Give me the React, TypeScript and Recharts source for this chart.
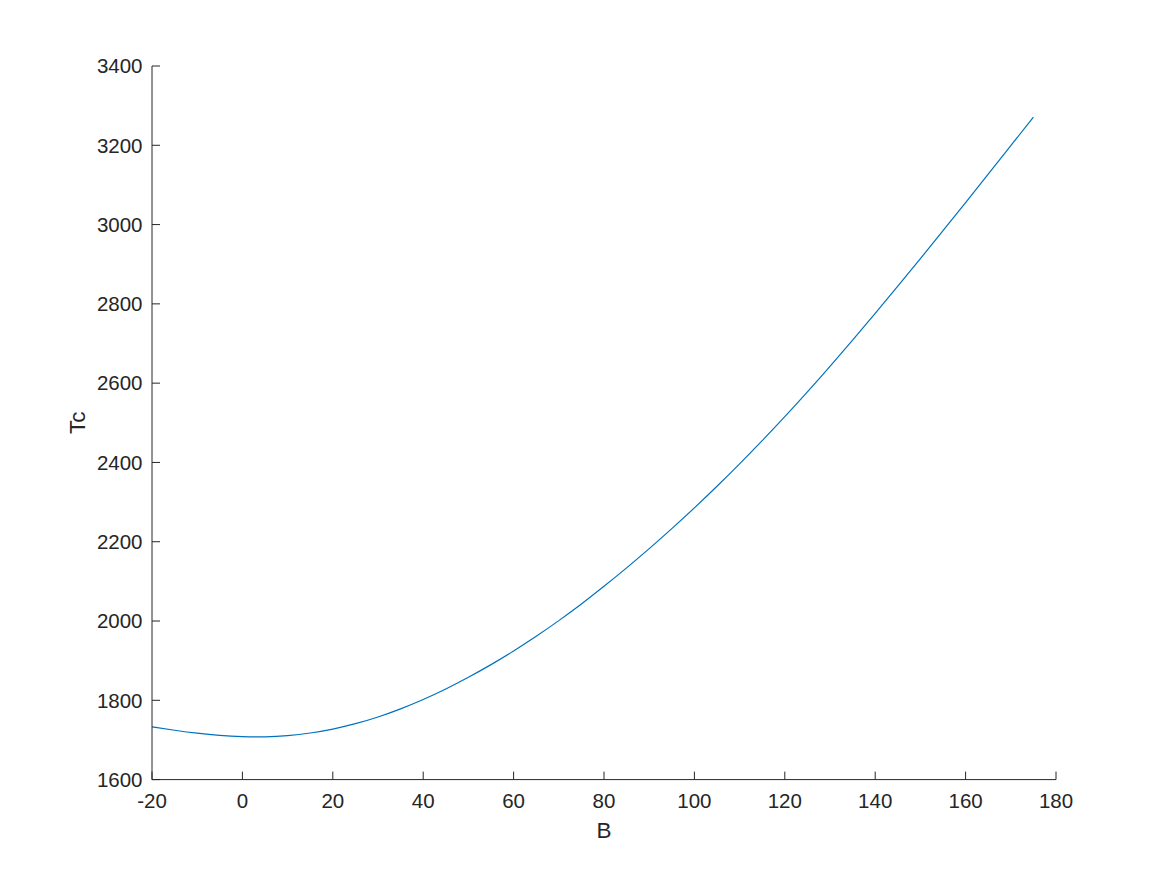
import React from 'react';
import { LineChart, Line, XAxis, YAxis } from 'recharts';

const bValues: number[] = [
  -20, -15, -10, -5, 0, 5, 10, 15, 20, 25, 30, 35, 40, 45, 50, 55, 60, 65, 70, 75,
  80, 85, 90, 95, 100, 105, 110, 115, 120, 125, 130, 135, 140, 145, 150, 155, 160,
  165, 170, 175,
];
const tcValues: number[] = [
  1733, 1724.5, 1717, 1711.5, 1708.5, 1708, 1711, 1717.5, 1727.5, 1741, 1758, 1778.5,
  1802, 1828.5, 1858, 1890, 1924.5, 1961.5, 2001, 2043, 2087.5, 2134, 2182.5, 2233,
  2285.5, 2340, 2396.5, 2455, 2515.5, 2578, 2642.5, 2708.5, 2776, 2844.5, 2914, 2984.5,
  3055.5, 3127, 3199, 3271,
];
const xTicks: number[] = [-20, 0, 20, 40, 60, 80, 100, 120, 140, 160, 180];
const yTicks: number[] = [1600, 1800, 2000, 2200, 2400, 2600, 2800, 3000, 3200, 3400];
const xLabel = 'B';
const yLabel = 'Tc';

const data = bValues.map((b, i) => ({ B: b, Tc: tcValues[i] }));

const FONT = '"Liberation Sans", Arial, Helvetica, sans-serif';
const INK = '#262626';

export default function App() {
  return (
    <div style={{ margin: -8, width: 1167, height: 875, background: '#fff' }}>
      <LineChart
        width={1167}
        height={875}
        data={data}
        margin={{ top: 66, right: 111, bottom: 35.4, left: 72 }}
      >
        <XAxis
          dataKey="B"
          type="number"
          domain={[-20, 180]}
          ticks={xTicks}
          interval={0}
          height={60}
          stroke={INK}
          strokeWidth={1}
          tickSize={-8}
          tickMargin={21.4}
          tick={{ fill: INK, fontSize: 20.5, fontFamily: FONT }}
          label={{
            value: xLabel,
            position: 'insideBottom',
            offset: 2,
            fill: INK,
            fontSize: 22.5,
            fontFamily: FONT,
          }}
        />
        <YAxis
          dataKey="Tc"
          type="number"
          domain={[1600, 3400]}
          ticks={yTicks}
          interval={0}
          width={80}
          stroke={INK}
          strokeWidth={1}
          tickSize={-8}
          tickMargin={17.5}
          tick={{ fill: INK, fontSize: 20.5, fontFamily: FONT }}
          label={{
            content: (props: any) => {
              const vb = props.viewBox || { x: 72, y: 66, width: 80, height: 713.6 };
              const cx = 85;
              const cy = vb.y + vb.height / 2;
              return (
                <text
                  x={cx}
                  y={cy}
                  transform={`rotate(-90 ${cx} ${cy})`}
                  textAnchor="middle"
                  fill={INK}
                  fontSize={22.5}
                  fontFamily={FONT}
                >
                  {yLabel}
                </text>
              );
            },
          }}
        />
        <Line
          type="natural"
          dataKey="Tc"
          stroke="#0072BD"
          strokeWidth={1.2}
          dot={false}
          activeDot={false}
          isAnimationActive={false}
        />
      </LineChart>
    </div>
  );
}
